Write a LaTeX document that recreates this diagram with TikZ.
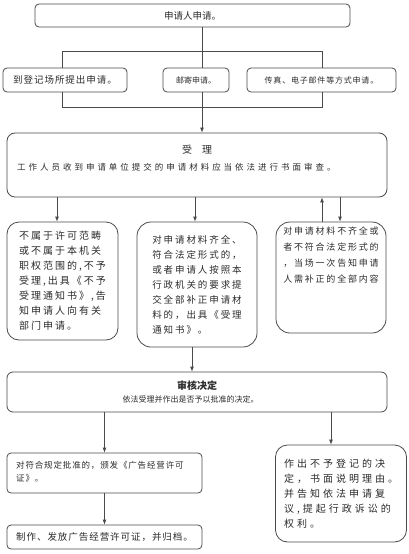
\documentclass[tikz,border=0pt]{standalone}
\usepackage{fontspec}
\usepackage{tikz}
\usetikzlibrary{arrows.meta, positioning, calc}
\setmainfont{Noto Sans CJK SC}
\newfontfamily\spaceS[LetterSpace=10]{Noto Sans CJK SC}
\newfontfamily\spaceM[LetterSpace=20]{Noto Sans CJK SC}
\newfontfamily\spaceL[LetterSpace=30]{Noto Sans CJK SC}
\newfontfamily\spaceX[LetterSpace=35]{Noto Sans CJK SC}
\definecolor{ink}  {HTML}{2B2B2B}
\definecolor{frame}{HTML}{4A4A4A}

\begin{document}
\begin{tikzpicture}[x=1pt, y=-1pt,
    box/.style={draw=frame, line width=0.8pt, rounded corners=4pt, inner sep=0pt, text=ink},
    label/.style={text=ink, inner sep=0pt},
    flow/.style={draw=frame, line width=0.8pt, -{Latex[length=5pt,width=4pt]}},
    wire/.style={draw=frame, line width=0.8pt}]
    \useasboundingbox (0,0) rectangle (408,554);

    % application
    \node[box, minimum width=315pt, minimum height=23pt, font=\fontsize{9.5}{11}\selectfont]
      (apply) at (192.5,15.5) {申请人申请。};
    \node[box, minimum width=124pt, minimum height=24pt, font=\spaceS\fontsize{9.5}{11}\selectfont]
      (visit) at (65,80) {到登记场所提出申请。};
    \node[box, minimum width=66pt, minimum height=24pt, font=\fontsize{8}{10}\selectfont]
      (post) at (196,80) {邮寄申请。};
    \node[box, minimum width=149pt, minimum height=24pt, font=\spaceS\fontsize{8}{10}\selectfont]
      (mail) at (321.5,80) {传真、电子邮件等方式申请。};

    \coordinate (spine) at (202,0);
    \coordinate (lx) at (62,0);
    \coordinate (rx) at (322,0);
    \draw[wire] (apply.south -| spine) -- (post.north -| spine);
    \draw[wire] (visit.north -| lx) -- ++(0,-16) -| (mail.north -| rx);
    \draw[wire] (visit.south -| lx) -- ++(0,15) -| (mail.south -| rx);

    % acceptance
    \node[box, rounded corners=8pt, minimum width=380pt, minimum height=64pt]
      (accept) at (197,165) {};
    \node[label, font=\fontsize{10}{12}\selectfont] (acceptT) at (197,150) {受\hspace{10pt}理};
    \node[label, anchor=west, font=\spaceX\fontsize{8.5}{10}\selectfont] (acceptL) at (17,167)
      {工作人员收到申请单位提交的申请材料应当依法进行书面审查。};
    \draw[flow] (post.south -| spine) -- (accept.north -| spine);

    \node[box, rounded corners=12pt, minimum width=111pt, minimum height=118pt, align=left,
      font=\spaceM\fontsize{10}{15}\selectfont] (refuse) at (62.5,281)
      {不属于许可范畴\\或不属于本机关\\职权范围的,不予\\受理,出具《不予\\受理通知书》,告\\知申请人向有关\\部门申请。};
    \node[box, rounded corners=14pt, minimum width=120pt, minimum height=125pt, align=left,
      font=\spaceM\fontsize{9.5}{15}\selectfont] (admit) at (197,284.5)
      {对申请材料齐全、\\符合法定形式的，\\或者申请人按照本\\行政机关的要求提\\交全部补正申请材\\料的，出具《受理\\通知书》。};
    \node[box, rounded corners=14pt, minimum width=110pt, minimum height=111pt]
      (supply) at (331,277.5) {};
    \node[label, anchor=north, align=left, font=\spaceM\fontsize{9}{16}\selectfont]
      (supplyT) at (331,227)
      {对申请材料不齐全或\\者不符合法定形式的\\，当场一次告知申请\\人需补正的全部内容};

    \draw[flow] ([xshift=-5.5pt]refuse.north |- accept.south) -- ([xshift=-5.5pt]refuse.north);
    \draw[flow] ([xshift=-2pt]admit.north |- accept.south) -- ([xshift=-2pt]admit.north);
    \draw[flow] ([xshift=-9pt]supply.north) -- ([xshift=-9pt]supply.north |- accept.south);
    \draw[flow] ([xshift=9pt]supply.north |- accept.south) -- ([xshift=9pt]supply.north);

    % decision
    \node[box, rounded corners=6pt, minimum width=380pt, minimum height=40pt]
      (review) at (197,392) {};
    \node[label, font=\bfseries\fontsize{10}{12}\selectfont] (reviewT) at (197,386) {审核决定};
    \node[label, font=\fontsize{8}{10}\selectfont] (reviewS) at (190.5,399.5)
      {依法受理并作出是否予以批准的决定。};
    \draw[flow] ([xshift=-5pt]admit.south) -- ([xshift=-5pt]admit.south |- review.north);

    \node[box, minimum width=195pt, minimum height=40pt] (grant) at (104.5,473) {};
    \node[label, anchor=west, align=left, font=\spaceS\fontsize{8.5}{12.5}\selectfont]
      (grantT) at (16,472) {对符合规定批准的，颁发《广告经营许可\\证》。};
    \node[box, minimum width=195pt, minimum height=24pt, font=\spaceS\fontsize{9.5}{11}\selectfont]
      (archive) at (104.5,537) {制作、发放广告经营许可证，并归档。};
    \node[box, rounded corners=12pt, minimum width=131pt, minimum height=97pt, align=left,
      font=\spaceL\fontsize{10}{15}\selectfont] (deny) at (341,493.5)
      {作出不予登记的决\\定，书面说明理由。\\并告知依法申请复\\议,提起行政诉讼的\\权利。};

    \draw[flow] (grant.north |- review.south) -- (grant.north);
    \draw[flow] ([xshift=-10pt]deny.north |- review.south) -- ([xshift=-10pt]deny.north);
    \draw[flow] (grant.south) -- (archive.north);
\end{tikzpicture}
\end{document}
